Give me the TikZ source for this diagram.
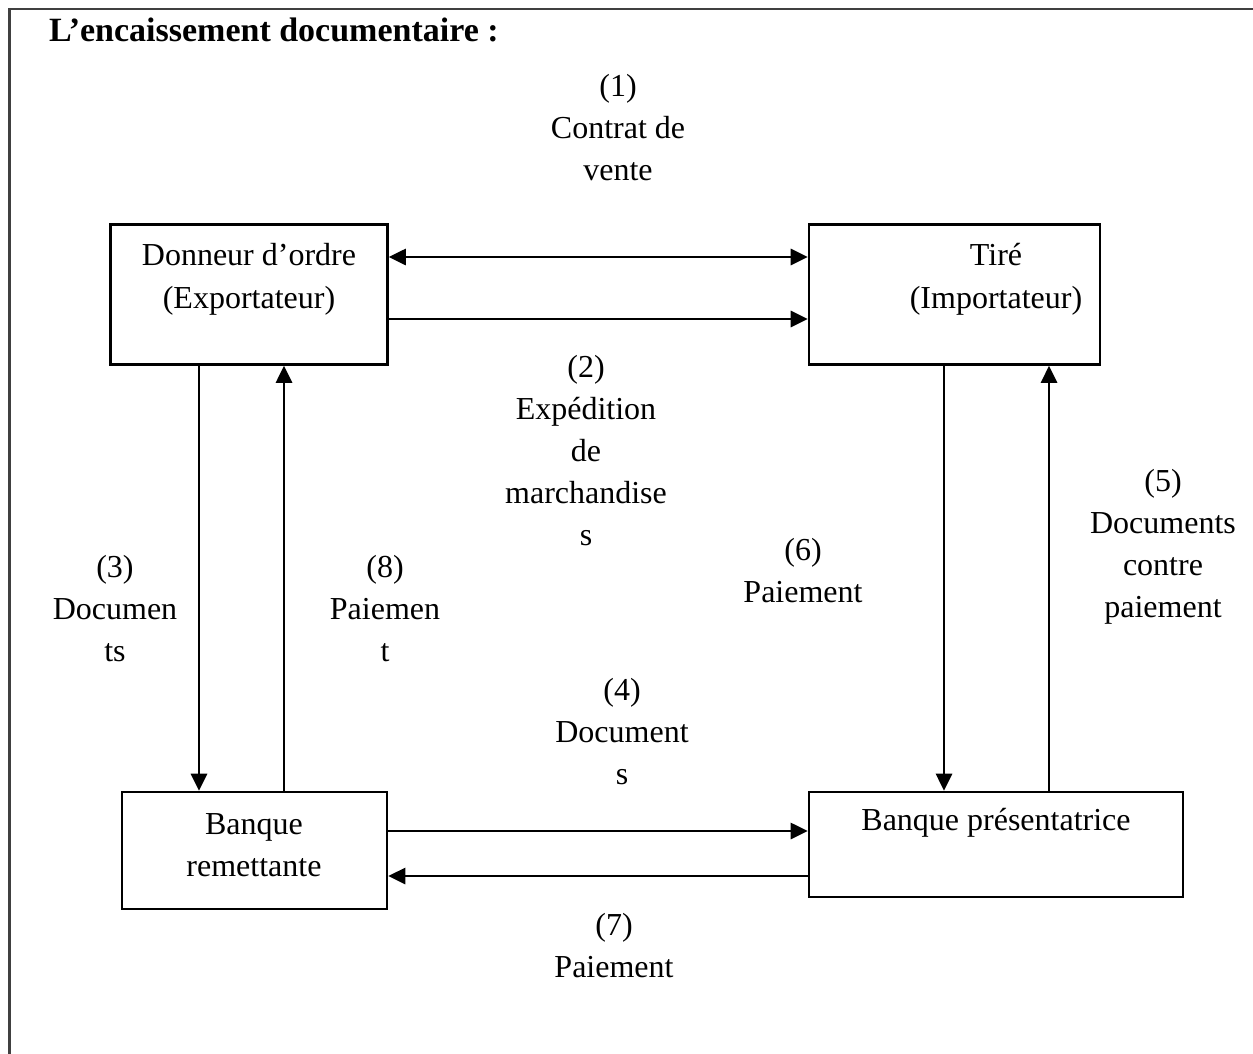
\documentclass[tikz,border=0pt]{standalone}
\usepackage{fontspec}
\setmainfont{Liberation Serif}
\usetikzlibrary{arrows.meta}

\begin{document}
\begin{tikzpicture}[x=1pt,y=-1pt,
  lbl/.style={align=center,inner sep=0pt,font=\fontsize{32}{42}\selectfont},
  boxlbl/.style={align=center,inner sep=0pt,font=\fontsize{32}{43}\selectfont},
  boxnode/.style={draw,line width=2.6pt,inner sep=0pt},
  tip/.tip={Triangle[length=17pt,width=16pt]},
  flow/.style={line width=2.8pt,-tip},
  flowboth/.style={line width=2.8pt,tip-tip}]
\useasboundingbox (0,0) rectangle (1253,1054);

% page frame (top and left edges)
\draw[line width=2.6pt,black!75] (9.5,1054) -- (9.5,9) -- (1253,9);

% title
\node[anchor=base west,inner sep=0pt,font=\fontsize{34}{40}\selectfont\bfseries] (title) at (49,42) {L’encaissement documentaire :};

% the four parties
\node[boxnode,minimum width=277pt,minimum height=140pt] (exp) at (249,294.5) {};
\node[boxnode,minimum width=291pt,minimum height=140pt] (imp) at (954.5,294.5) {};
\node[boxnode,minimum width=265pt,minimum height=117pt] (rem) at (254.5,850.5) {};
\node[boxnode,minimum width=374pt,minimum height=105pt] (pre) at (996,844.5) {};

\node[boxlbl] (expt) at (249,279) {Donneur d’ordre\\(Exportateur)};
\node[boxlbl] (impt) at (996,279) {Tiré\\(Importateur)};
\node[lbl] (remt) at (254,845) {Banque\\remettante};
\node[lbl] (pret) at (996,823) {Banque présentatrice};

% anchor points on the box edges
\coordinate (e1) at (exp.east |- 0,257);
\coordinate (i1) at (imp.west |- 0,257);
\coordinate (e2) at (exp.east |- 0,319);
\coordinate (i2) at (imp.west |- 0,319);
\coordinate (e3) at (exp.south -| 199,0);
\coordinate (r3) at (rem.north -| 199,0);
\coordinate (e8) at (exp.south -| 284,0);
\coordinate (r8) at (rem.north -| 284,0);
\coordinate (i6) at (imp.south -| 944,0);
\coordinate (p6) at (pre.north -| 944,0);
\coordinate (i5) at (imp.south -| 1049,0);
\coordinate (p5) at (pre.north -| 1049,0);
\coordinate (r4) at (rem.east |- 0,831);
\coordinate (p4) at (pre.west |- 0,831);
\coordinate (r7) at (rem.east |- 0,876);
\coordinate (p7) at (pre.west |- 0,876);

% flows
\draw[flowboth] (e1) -- (i1);
\draw[flow] (e2) -- (i2);
\draw[flow] (e3) -- (r3);
\draw[flow] (r8) -- (e8);
\draw[flow] (i6) -- (p6);
\draw[flow] (p5) -- (i5);
\draw[flow] (r4) -- (p4);
\draw[flow] (p7) -- (r7);

% flow labels
\node[lbl] (l1) at (618,128) {(1)\\Contrat de\\vente};
\node[lbl] (l2) at (586,451) {(2)\\Expédition\\de\\marchandise\\s};
\node[lbl] (l3) at (115,609) {(3)\\Documen\\ts};
\node[lbl] (l8) at (385,609) {(8)\\Paiemen\\t};
\node[lbl] (l6) at (803,571) {(6)\\Paiement};
\node[lbl] (l5) at (1163,547) {(5)\\Documents\\contre\\paiement};
\node[lbl] (l4) at (622,732) {(4)\\Document\\s};
\node[lbl] (l7) at (614,946) {(7)\\Paiement};
\end{tikzpicture}
\end{document}
